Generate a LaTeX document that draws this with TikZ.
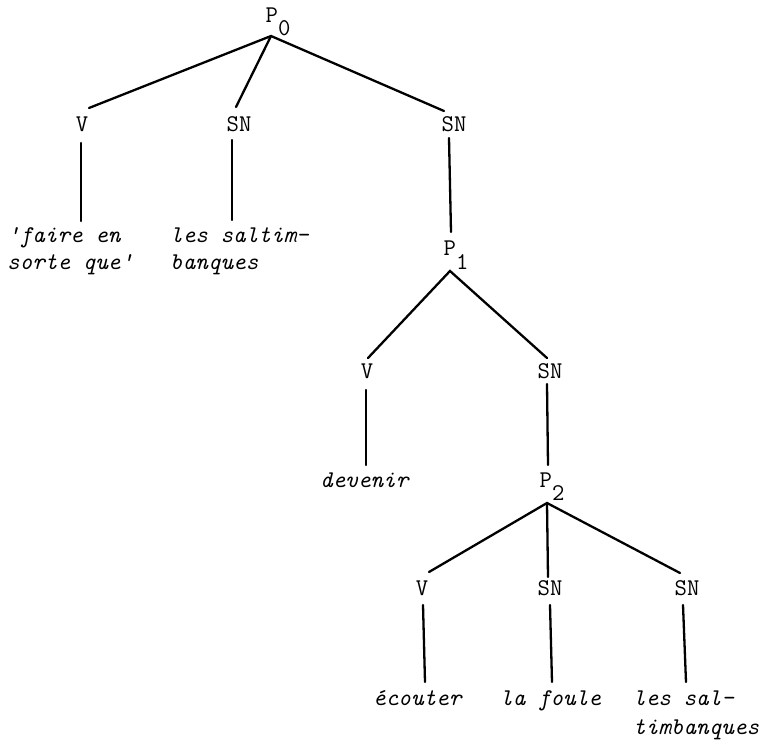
\documentclass[tikz,border=0pt]{standalone}
\usepackage{fontspec}
\begin{document}
\begin{tikzpicture}[x=1pt,y=-1pt,
  lab/.style={font=\fontsize{24}{28}\selectfont\ttfamily, inner sep=0pt, anchor=base},
  leaf/.style={font=\fontsize{24}{28}\selectfont\ttfamily\itshape, inner sep=0pt, anchor=base west},
  branch/.style={line width=2.3pt, line cap=round}]
\useasboundingbox (0,0) rectangle (774,741);
% labels
\node[lab] (P0) at (278,23) {P\raisebox{-13pt}{0}};
\node[lab] (V1) at (82,132) {V};
\node[lab] (SN1) at (239,132) {SN};
\node[lab] (SN2) at (454,132) {SN};
\node[leaf] (L1) at (7,242) {\begin{tabular}[t]{@{}l@{}}'faire en\\[-1pt]sorte que'\end{tabular}};
\node[leaf] (L2) at (170,242) {\begin{tabular}[t]{@{}l@{}}les saltim-\\[-1pt]banques\end{tabular}};
\node[lab] (P1) at (456,255) {P\raisebox{-14pt}{1}};
\node[lab] (V2) at (367,378) {V};
\node[lab] (SN3) at (550,378) {SN};
\node[leaf] (L3) at (320,487) {devenir};
\node[lab] (P2) at (552,487) {P\raisebox{-13pt}{2}};
\node[lab] (V3) at (422,595) {V};
\node[lab] (SN4) at (550,595) {SN};
\node[lab] (SN5) at (687,595) {SN};
\node[leaf] (L4) at (373,705) {\'ecouter};
\node[leaf] (L5) at (500,705) {la foule};
\node[leaf] (L6) at (633,705) {\begin{tabular}[t]{@{}l@{}}les sal-\\[1pt]timbanques\end{tabular}};
% connection points
\coordinate (P0b) at (271,36);
\coordinate (V1t) at (89,108);  \coordinate (V1b) at (81,143);  \coordinate (L1t) at (81,221);
\coordinate (SN1t) at (236,107); \coordinate (SN1b) at (232,140); \coordinate (L2t) at (232,220);
\coordinate (SN2t) at (444,111); \coordinate (SN2b) at (449,138); \coordinate (P1t) at (451,232);
\coordinate (P1b) at (450,271);
\coordinate (V2t) at (368,358); \coordinate (V2b) at (366,390); \coordinate (L3t) at (366,465);
\coordinate (SN3t) at (547,358); \coordinate (SN3b) at (547,384); \coordinate (P2t) at (548,465);
\coordinate (P2b) at (547,503);
\coordinate (V3t) at (429,572); \coordinate (V3b) at (423,605); \coordinate (L4t) at (425,682);
\coordinate (SN4t) at (548,577); \coordinate (SN4b) at (550,605); \coordinate (L5t) at (552,682);
\coordinate (SN5t) at (680,573); \coordinate (SN5b) at (683,605); \coordinate (L6t) at (686,682);
% branches
\draw[branch] (V1t) -- (P0b) -- (SN2t);
\draw[branch] (P0b) -- (SN1t);
\draw[branch] (V1b) -- (L1t);
\draw[branch] (SN1b) -- (L2t);
\draw[branch] (SN2b) -- (P1t);
\draw[branch] (V2t) -- (P1b) -- (SN3t);
\draw[branch] (V2b) -- (L3t);
\draw[branch] (SN3b) -- (P2t);
\draw[branch] (V3t) -- (P2b) -- (SN5t);
\draw[branch] (P2b) -- (SN4t);
\draw[branch] (V3b) -- (L4t);
\draw[branch] (SN4b) -- (L5t);
\draw[branch] (SN5b) -- (L6t);
\end{tikzpicture}
\end{document}
